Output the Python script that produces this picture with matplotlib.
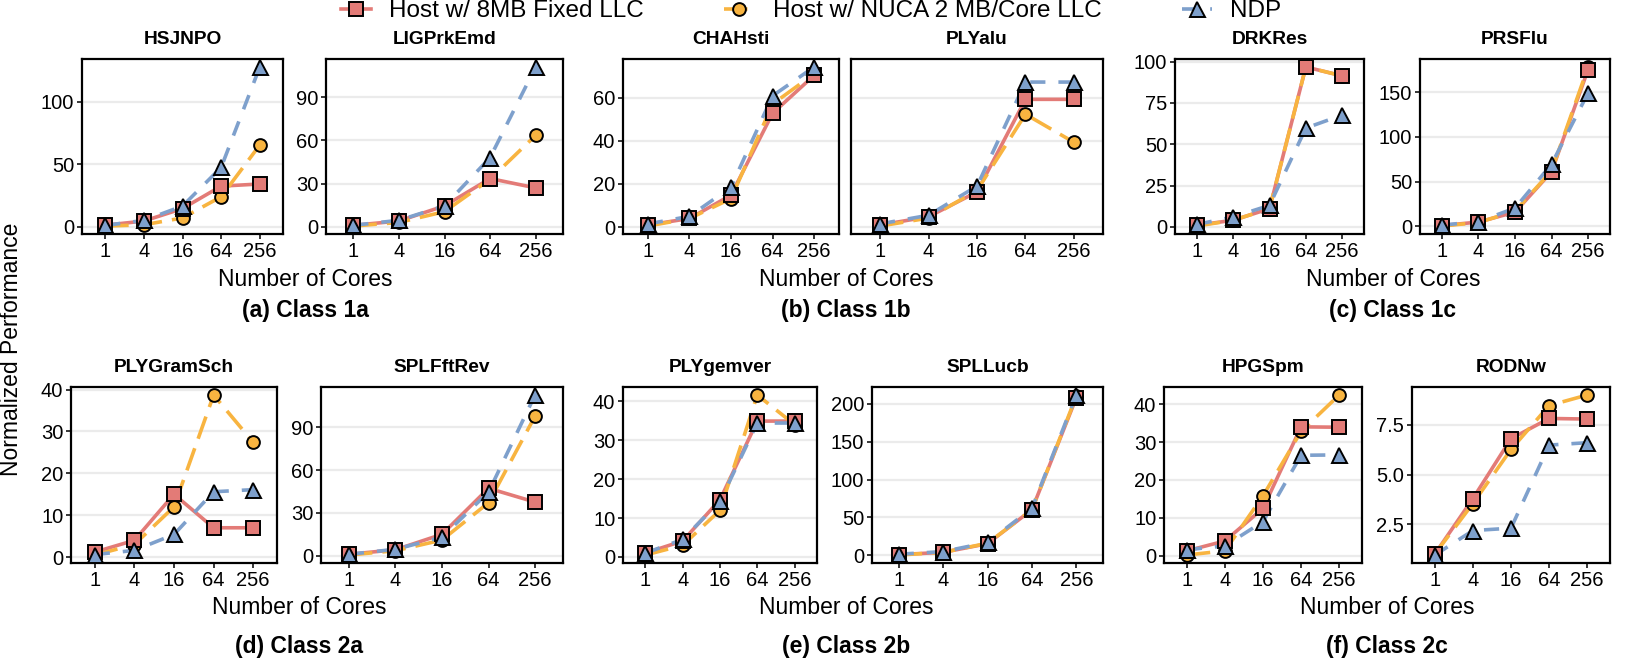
import matplotlib
matplotlib.use("Agg")
import matplotlib.pyplot as plt
from matplotlib.lines import Line2D

plt.rcParams["font.family"] = ["Liberation Sans", "DejaVu Sans"]

# x categories
cores = ["1", "4", "16", "64", "256"]

# --- per-benchmark values (host 8MB fixed LLC / host NUCA / NDP) ---
hsjnpo_host = [1.2, 4.5, 14.5, 32.5, 34.2]
hsjnpo_nuca = [0.5, 1.5, 7.0, 24.0, 65.5]
hsjnpo_ndp = [1.0, 5.0, 16.5, 47.5, 128.0]
hsjnpo_ticks = [0, 50, 100]

ligprkemd_host = [1.0, 4.0, 14.5, 33.5, 27.0]
ligprkemd_nuca = [0.5, 3.0, 10.5, 33.0, 63.5]
ligprkemd_ndp = [1.0, 4.5, 14.5, 48.0, 111.0]
ligprkemd_ticks = [0, 30, 60, 90]

chahsti_host = [1.0, 4.0, 14.8, 52.7, 70.3]
chahsti_nuca = [0.5, 4.0, 13.2, 57.0, 71.0]
chahsti_ndp = [1.5, 5.0, 18.5, 60.8, 74.2]
chahsti_ticks = [0, 20, 40, 60]

plyalu_host = [1.0, 4.8, 16.3, 59.2, 59.2]
plyalu_nuca = [0.5, 4.2, 17.0, 52.3, 39.3]
plyalu_ndp = [1.5, 5.5, 19.0, 67.2, 67.2]
plyalu_ticks = [0, 20, 40, 60]

drkres_host = [1.0, 4.0, 11.0, 96.8, 91.4]
drkres_nuca = [0.5, 4.0, 11.0, 96.8, 91.4]
drkres_ndp = [1.5, 6.0, 13.0, 59.8, 67.7]
drkres_ticks = [0, 25, 50, 75, 100]

prsflu_host = [1.0, 5.0, 16.0, 61.0, 175.0]
prsflu_nuca = [0.5, 4.5, 17.0, 62.0, 178.0]
prsflu_ndp = [1.5, 5.5, 20.5, 69.5, 149.0]
prsflu_ticks = [0, 50, 100, 150]

plygramsch_host = [1.2, 4.0, 15.0, 7.0, 7.0]
plygramsch_nuca = [0.5, 3.0, 12.0, 38.7, 27.4]
plygramsch_ndp = [0.6, 1.6, 5.4, 15.6, 16.1]
plygramsch_ticks = [0, 10, 20, 30, 40]

splfftrev_host = [1.0, 4.2, 15.0, 47.3, 37.6]
splfftrev_nuca = [0.5, 3.5, 11.0, 37.2, 97.9]
splfftrev_ndp = [1.0, 4.5, 13.0, 44.6, 112.7]
splfftrev_ticks = [0, 30, 60, 90]

plygemver_host = [1.0, 4.1, 14.7, 34.9, 34.9]
plygemver_nuca = [0.5, 3.0, 12.0, 41.6, 34.0]
plygemver_ndp = [1.0, 4.5, 14.3, 34.4, 34.4]
plygemver_ticks = [0, 10, 20, 30, 40]

spllucb_host = [1.0, 4.0, 15.4, 60.2, 208.0]
spllucb_nuca = [0.5, 4.0, 16.0, 60.0, 210.0]
spllucb_ndp = [1.5, 5.0, 17.0, 62.0, 211.4]
spllucb_ticks = [0, 50, 100, 150, 200]

hpgspm_host = [1.3, 3.9, 12.5, 34.0, 33.9]
hpgspm_nuca = [0.2, 1.3, 15.8, 32.8, 42.4]
hpgspm_ndp = [1.6, 2.6, 9.0, 26.5, 26.6]
hpgspm_ticks = [0, 10, 20, 30, 40]

rodnw_host = [1.0, 3.79, 6.8, 7.82, 7.79]
rodnw_nuca = [1.0, 3.54, 6.26, 8.47, 9.0]
rodnw_ndp = [0.95, 2.18, 2.3, 6.48, 6.6]
rodnw_ticks = [2.5, 5.0, 7.5]

series_names = ["Host w/ 8MB Fixed LLC", "Host w/ NUCA 2 MB/Core LLC", "NDP"]
group_captions = ["(a) Class 1a", "(b) Class 1b", "(c) Class 1c",
                  "(d) Class 2a", "(e) Class 2b", "(f) Class 2c"]

benchmarks = [
    ("HSJNPO", hsjnpo_host, hsjnpo_nuca, hsjnpo_ndp, hsjnpo_ticks),
    ("LIGPrkEmd", ligprkemd_host, ligprkemd_nuca, ligprkemd_ndp, ligprkemd_ticks),
    ("CHAHsti", chahsti_host, chahsti_nuca, chahsti_ndp, chahsti_ticks),
    ("PLYalu", plyalu_host, plyalu_nuca, plyalu_ndp, plyalu_ticks),
    ("DRKRes", drkres_host, drkres_nuca, drkres_ndp, drkres_ticks),
    ("PRSFlu", prsflu_host, prsflu_nuca, prsflu_ndp, prsflu_ticks),
    ("PLYGramSch", plygramsch_host, plygramsch_nuca, plygramsch_ndp, plygramsch_ticks),
    ("SPLFftRev", splfftrev_host, splfftrev_nuca, splfftrev_ndp, splfftrev_ticks),
    ("PLYgemver", plygemver_host, plygemver_nuca, plygemver_ndp, plygemver_ticks),
    ("SPLLucb", spllucb_host, spllucb_nuca, spllucb_ndp, spllucb_ticks),
    ("HPGSpm", hpgspm_host, hpgspm_nuca, hpgspm_ndp, hpgspm_ticks),
    ("RODNw", rodnw_host, rodnw_nuca, rodnw_ndp, rodnw_ticks),
]

# panel boxes in pixels: (left, right), rows give top/bottom
W, H = 1646, 669
panel_x = [(82, 283), (326, 563), (623, 839), (851, 1103), (1175, 1364), (1420, 1610),
           (71, 277), (321, 563), (623, 817), (872, 1103), (1164, 1362), (1412, 1610)]
row_y = [(59, 234), (387, 563)]
shared_y = {2: 3, 3: 2}  # CHAHsti and PLYalu share one y scale

# styles
RED = "#E37B77"
ORANGE = "#F8B440"
BLUE = "#7EA0CC"
styles = [
    dict(color=RED, ls="-", marker="s", ms=9.6, z=2.0, mz=3.1),
    dict(color=ORANGE, ls=(0, (6.5, 2.8)), marker="o", ms=9.2, z=2.1, mz=3.0),
    dict(color=BLUE, ls=(0, (4.2, 3.6)), marker="^", ms=10.8, z=2.2, mz=3.2),
]
LW = 2.6


def ylimits(vals):
    lo, hi = min(vals), max(vals)
    pad = 0.05 * (hi - lo)
    return lo - pad, hi + pad


fig = plt.figure(figsize=(W / 100, H / 100), dpi=100)

for i, (name, host, nuca, ndp, ticks) in enumerate(benchmarks):
    l, r = panel_x[i]
    t, b = row_y[i // 6]
    ax = fig.add_axes([l / W, 1 - b / H, (r - l) / W, (b - t) / H])
    xs = list(range(len(cores)))

    for vals, st in zip([host, nuca, ndp], styles):
        ax.plot(xs, vals, color=st["color"], ls=st["ls"], lw=LW, zorder=st["z"],
                solid_capstyle="butt", dash_capstyle="butt")
        ax.plot(xs, vals, ls="none", marker=st["marker"], ms=st["ms"],
                mfc=st["color"], mec="black", mew=1.4, zorder=st["mz"], clip_on=False)

    allv = host + nuca + ndp
    if i in shared_y:
        other = benchmarks[shared_y[i]]
        allv = allv + other[1] + other[2] + other[3]
    ax.set_ylim(*ylimits(allv))
    ax.set_xlim(-0.6, len(cores) - 0.4)
    ax.set_xticks(xs)
    ax.set_xticklabels(cores)
    ax.set_yticks(ticks)
    if i == 3:
        ax.set_yticklabels([])
    elif i == 11:
        ax.set_yticklabels([f"{v:.1f}" for v in ticks])
    else:
        ax.set_yticklabels([f"{v:g}" for v in ticks])

    ax.grid(axis="y", color="#EBEBEB", lw=1.6, zorder=0)
    ax.grid(axis="x", visible=False)
    ax.set_axisbelow(True)
    for sp in ax.spines.values():
        sp.set_linewidth(1.6)
        sp.set_color("black")
    ax.tick_params(axis="both", direction="out", length=3.5, width=1.1,
                   labelsize=14.5, pad=2, colors="black")
    if i == 3:
        ax.tick_params(axis="y", length=0)

    title_y = 40 if i < 6 else 367
    fig.text((l + r) / 2 / W, 1 - title_y / H, name, ha="center", va="center",
             fontsize=13.8, fontweight="bold")

# x labels and group captions
group_cx = [305, 846, 1393, 299, 846, 1387]
for g, cx in enumerate(group_cx):
    xl_y = 280 if g < 3 else 607
    cap_y = 310 if g < 3 else 647
    fig.text(cx / W, 1 - xl_y / H, "Number of Cores", ha="center", va="center", fontsize=16.5)
    fig.text(cx / W, 1 - cap_y / H, group_captions[g], ha="center", va="center",
             fontsize=16.5, fontweight="bold")

fig.text(12 / W, 1 - 349 / H, "Normalized Performance", rotation=90,
         ha="center", va="center", fontsize=16.5)

handles = [Line2D([], [], color=st["color"], ls=st["ls"], lw=LW, marker=st["marker"],
                  ms=st["ms"], mfc=st["color"], mec="black", mew=1.4) for st in styles]
fig.legend(handles, series_names, loc="center", bbox_to_anchor=(811 / W, 1 - 11 / H),
           ncol=3, frameon=False, fontsize=17.5, handlelength=1.25, handletextpad=0.75,
           columnspacing=3.3, borderpad=0, borderaxespad=0)

fig.savefig("out.png", dpi=100)
